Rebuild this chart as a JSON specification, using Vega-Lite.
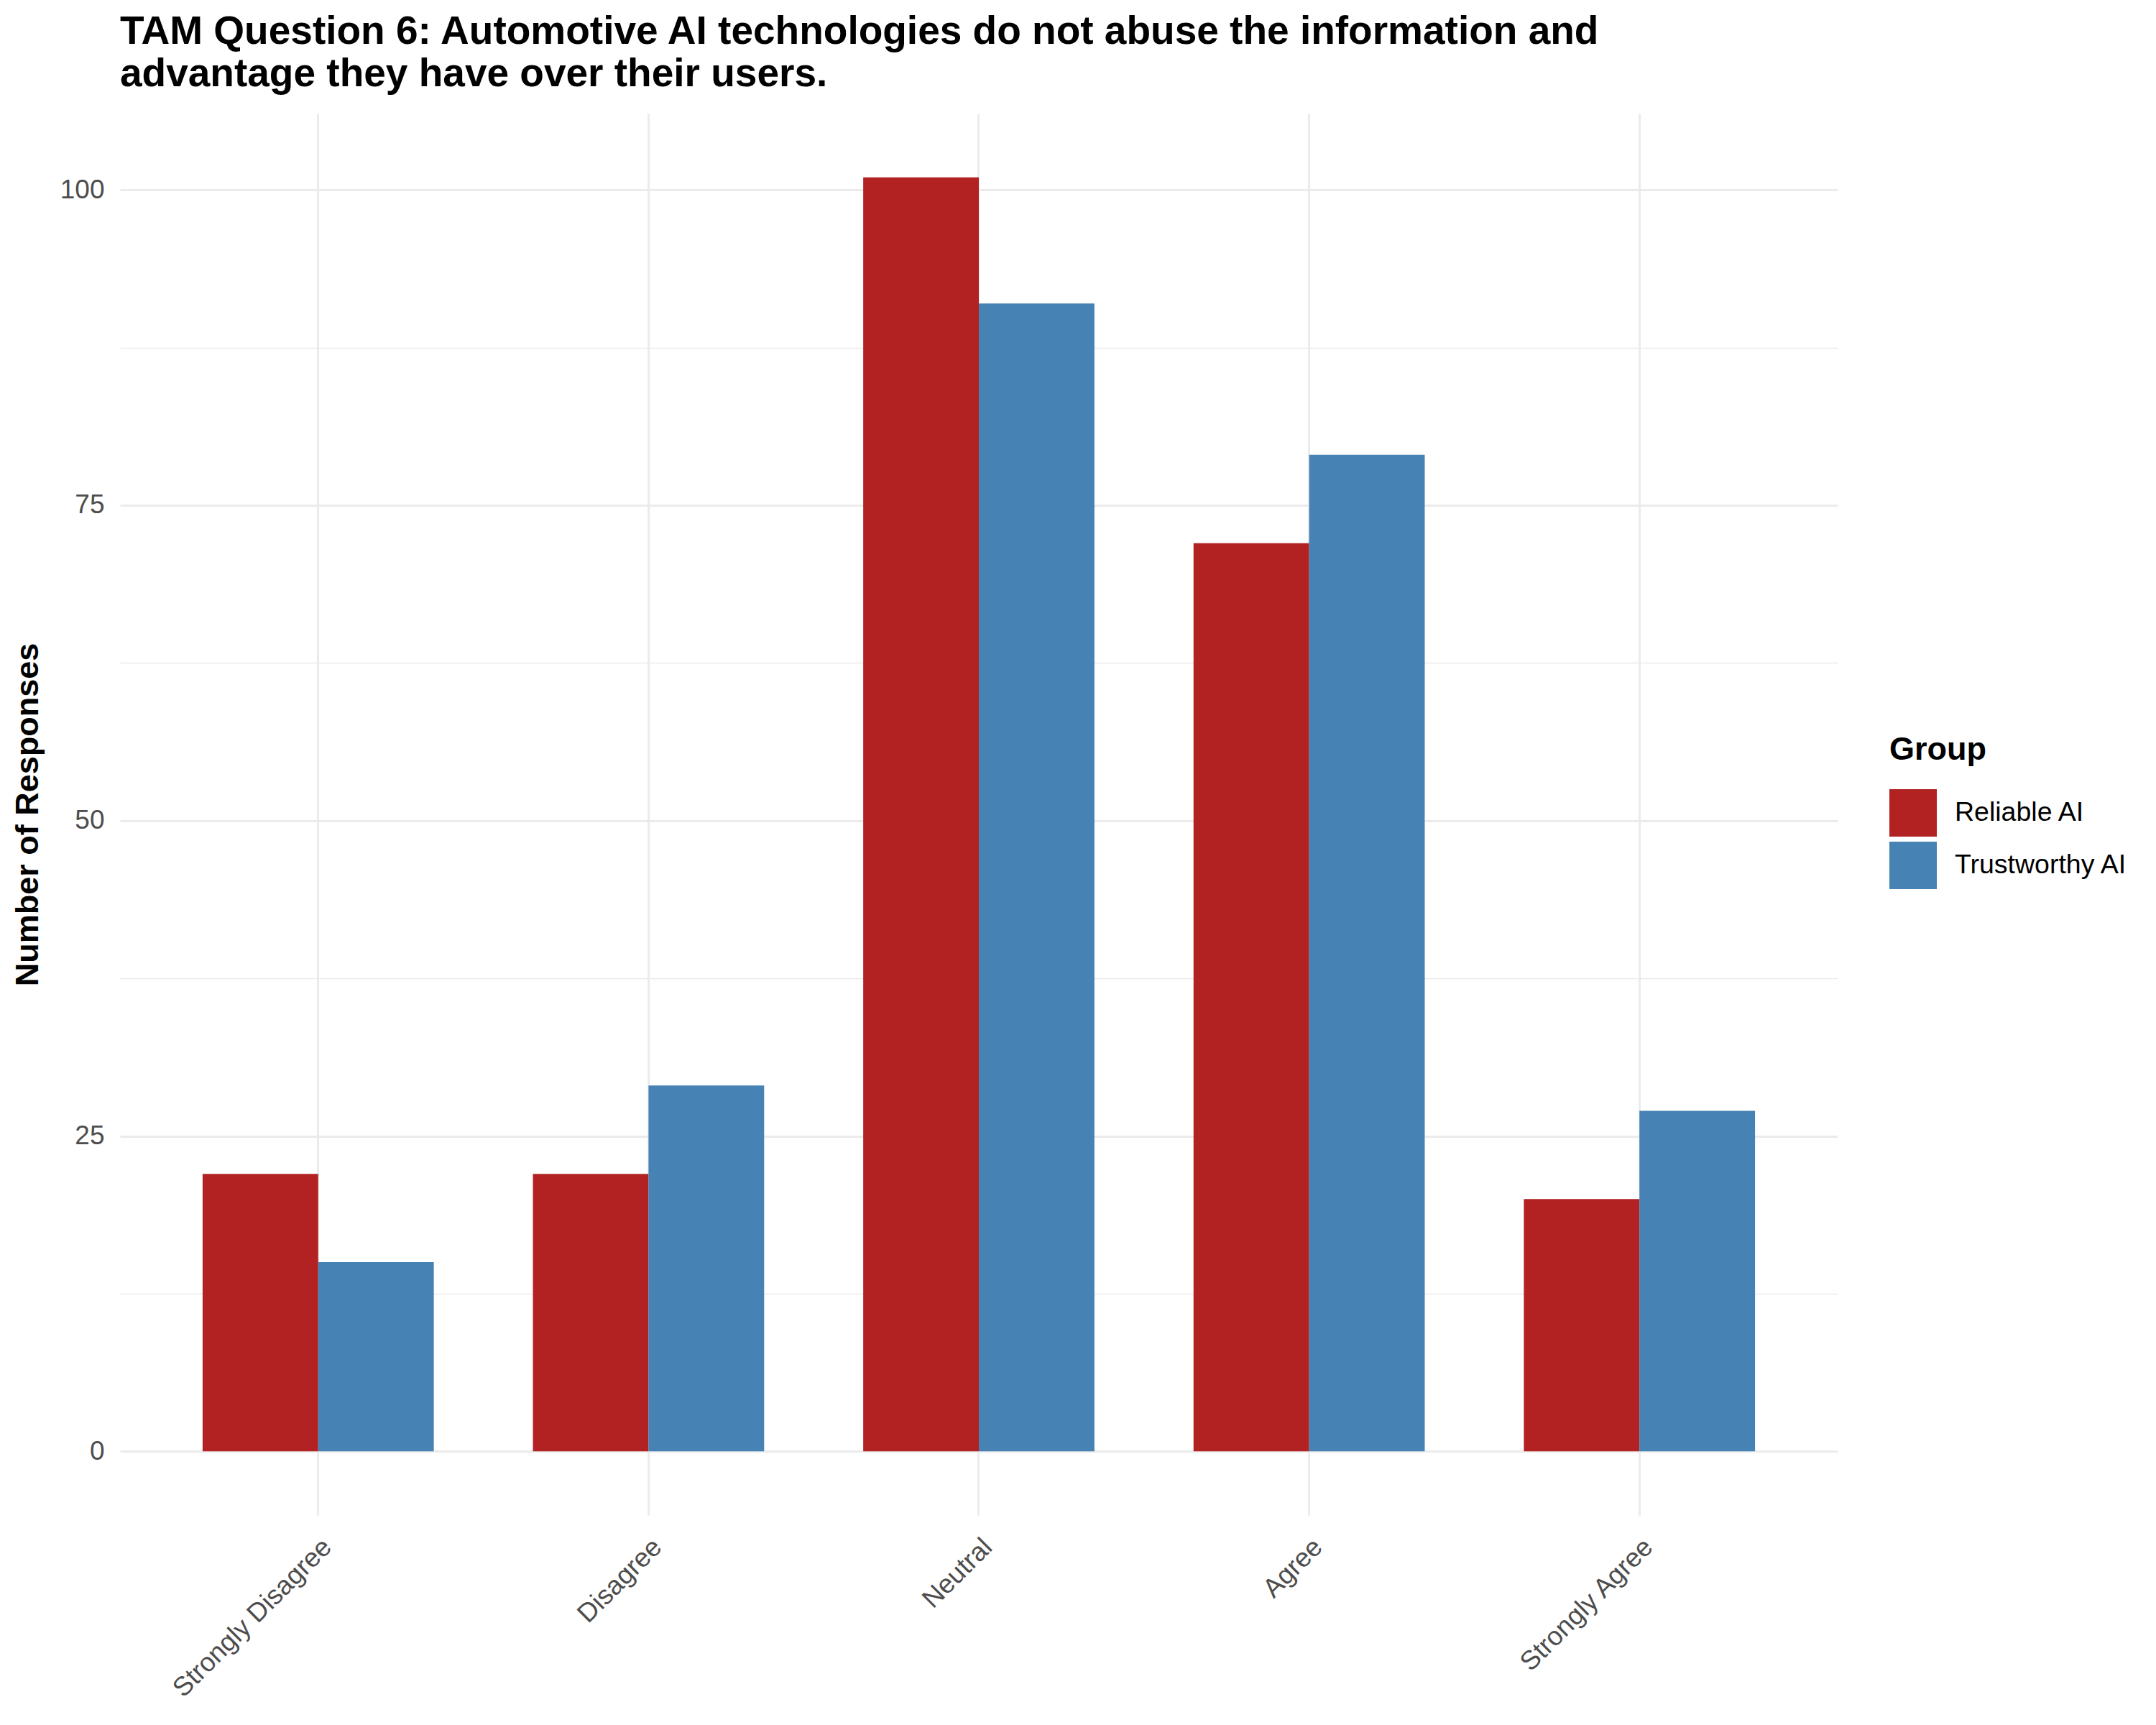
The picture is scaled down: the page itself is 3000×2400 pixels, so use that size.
{
  "$schema": "https://vega.github.io/schema/vega-lite/v6.json",
  "autosize": {"type": "none"},
  "width": 2390,
  "height": 1950,
  "padding": {"left": 167, "top": 158, "right": 443, "bottom": 292},
  "background": "white",
  "config": {
    "view": {"stroke": null},
    "font": "Liberation Sans"
  },
  "title": {
    "text": ["TAM Question 6: Automotive AI technologies do not abuse the information and", "advantage they have over their users."],
    "anchor": "start",
    "frame": "group",
    "font": "Liberation Sans",
    "fontSize": 55,
    "fontWeight": "bold",
    "color": "black",
    "lineHeight": 59,
    "offset": 26
  },
  "data": {
    "values": [
      {"response": "Strongly Disagree", "group": "Reliable AI", "count": 22},
      {"response": "Strongly Disagree", "group": "Trustworthy AI", "count": 15},
      {"response": "Disagree", "group": "Reliable AI", "count": 22},
      {"response": "Disagree", "group": "Trustworthy AI", "count": 29},
      {"response": "Neutral", "group": "Reliable AI", "count": 101},
      {"response": "Neutral", "group": "Trustworthy AI", "count": 91},
      {"response": "Agree", "group": "Reliable AI", "count": 72},
      {"response": "Agree", "group": "Trustworthy AI", "count": 79},
      {"response": "Strongly Agree", "group": "Reliable AI", "count": 20},
      {"response": "Strongly Agree", "group": "Trustworthy AI", "count": 27}
    ]
  },
  "mark": {"type": "bar"},
  "encoding": {
    "x": {
      "field": "response",
      "type": "nominal",
      "sort": ["Strongly Disagree", "Disagree", "Neutral", "Agree", "Strongly Agree"],
      "scale": {"paddingInner": 0.3, "paddingOuter": 0.25},
      "axis": {
        "title": null,
        "bandPosition": 0.5,
        "grid": true,
        "gridColor": "#EBEBEB",
        "gridWidth": 3,
        "domain": false,
        "ticks": false,
        "labelAngle": -45,
        "labelAlign": "right",
        "labelBaseline": "top",
        "labelPadding": 26,
        "labelLimit": 0,
        "labelFont": "Liberation Sans",
        "labelFontSize": 37,
        "labelColor": "#4D4D4D"
      }
    },
    "xOffset": {
      "field": "group",
      "type": "nominal",
      "scale": {"paddingInner": 0, "paddingOuter": 0}
    },
    "y": {
      "field": "count",
      "type": "quantitative",
      "scale": {"domain": [-5.05, 106.05], "nice": false, "zero": false},
      "axis": {
        "title": "Number of Responses",
        "titleFont": "Liberation Sans",
        "titleFontSize": 45,
        "titleFontWeight": "bold",
        "titleColor": "black",
        "titleX": -129,
        "titleY": 975,
        "titleAngle": -90,
        "titleBaseline": "middle",
        "titleAlign": "center",
        "values": [0, 12.5, 25, 37.5, 50, 62.5, 75, 87.5, 100],
        "labelExpr": "datum.value % 25 === 0 ? datum.label : ''",
        "grid": true,
        "gridColor": "#EBEBEB",
        "gridWidth": {"condition": {"test": "datum.value % 25 !== 0", "value": 1.5}, "value": 3},
        "domain": false,
        "ticks": false,
        "labelPadding": 22,
        "labelFont": "Liberation Sans",
        "labelFontSize": 37,
        "labelColor": "#4D4D4D"
      }
    },
    "color": {
      "field": "group",
      "type": "nominal",
      "scale": {"domain": ["Reliable AI", "Trustworthy AI"], "range": ["#B22222", "#4682B4"]},
      "legend": {
        "title": "Group",
        "orient": "none",
        "legendX": 2462,
        "legendY": 863,
        "titleFont": "Liberation Sans",
        "titleFontSize": 45,
        "titleFontWeight": "bold",
        "titleColor": "black",
        "titlePadding": 32,
        "symbolType": "square",
        "symbolSize": 4356,
        "symbolStrokeWidth": 0,
        "symbolOpacity": 1,
        "labelFont": "Liberation Sans",
        "labelFontSize": 37.5,
        "labelColor": "black",
        "labelOffset": 25,
        "labelLimit": 0,
        "rowPadding": 7
      }
    }
  }
}
